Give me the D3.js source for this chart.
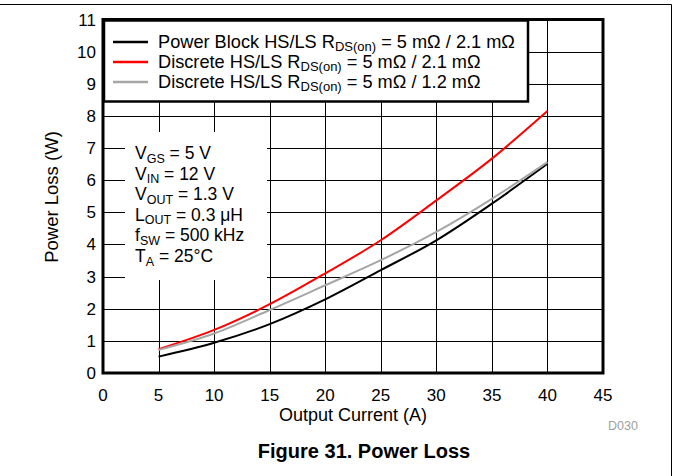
<!DOCTYPE html>
<html><head><meta charset="utf-8">
<script src="https://cdn.jsdelivr.net/npm/d3@7"></script>
<style>body{margin:0;background:#fff}svg{display:block;font-family:"Liberation Sans",Arial,sans-serif}</style>
</head><body><svg id="c" width="673" height="476"></svg>
<script>
const currents = [5, 10, 15, 20, 25, 30, 35, 40];
const powerBlock = [0.51, 0.94, 1.52, 2.29, 3.20, 4.13, 5.27, 6.51];
const discrete21 = [0.74, 1.34, 2.14, 3.10, 4.13, 5.37, 6.67, 8.15];
const discrete12 = [0.72, 1.23, 1.96, 2.73, 3.51, 4.39, 5.42, 6.56];
const xTicks = [0, 5, 10, 15, 20, 25, 30, 35, 40, 45];
const yTicks = [0, 1, 2, 3, 4, 5, 6, 7, 8, 9, 10, 11];
const seriesNames = [
  ["Power Block HS/LS R", "DS(on)", " = 5 m\u03A9 / 2.1 m\u03A9"],
  ["Discrete HS/LS R", "DS(on)", " = 5 m\u03A9 / 2.1 m\u03A9"],
  ["Discrete HS/LS R", "DS(on)", " = 5 m\u03A9 / 1.2 m\u03A9"]
];
const seriesColors = ["#000000", "#ff0000", "#a6a6a6"];
const conditions = [
  ["V", "GS", " = 5 V"], ["V", "IN", " = 12 V"], ["V", "OUT", " = 1.3 V"],
  ["L", "OUT", " = 0.3 \u03BCH"], ["f", "SW", " = 500 kHz"], ["T", "A", " = 25\u00B0C"]
];
const seriesValues = [powerBlock, discrete21, discrete12];

const svg = d3.select("#c");
const L = 103, R = 603, T = 19.5, B = 373;
const x = d3.scaleLinear().domain([0, 45]).range([L, R]);
const y = d3.scaleLinear().domain([0, 11]).range([B, T]);

// outer frame
svg.append("line").attr("x1", 0).attr("x2", 671.5).attr("y1", 4.5).attr("y2", 4.5).attr("stroke", "#000").attr("stroke-width", 1);
svg.append("line").attr("x1", 671.5).attr("x2", 671.5).attr("y1", 4.5).attr("y2", 476).attr("stroke", "#000").attr("stroke-width", 1);

// grid
const g = svg.append("g");
g.selectAll("line.v").data(xTicks.slice(1, -1)).join("line")
  .attr("x1", d => Math.round(x(d)) + 0.5).attr("x2", d => Math.round(x(d)) + 0.5)
  .attr("y1", T).attr("y2", B).attr("stroke", "#000").attr("stroke-width", 1);
g.selectAll("line.h").data(yTicks.slice(1, -1)).join("line")
  .attr("y1", d => Math.round(y(d)) + 0.5).attr("y2", d => Math.round(y(d)) + 0.5)
  .attr("x1", L).attr("x2", R).attr("stroke", "#000").attr("stroke-width", 1);

// axes tick labels
const fs = 17;
svg.append("g").selectAll("text").data(xTicks).join("text")
  .attr("x", d => x(d)).attr("y", 401).attr("text-anchor", "middle")
  .attr("font-size", fs).text(d => d);
svg.append("g").selectAll("text").data(yTicks).join("text")
  .attr("x", 96).attr("y", d => y(d) + 6).attr("text-anchor", "end")
  .attr("font-size", fs).text(d => d);

// curves
const line = d3.line().x((d, i) => x(currents[i])).y(d => y(d)).curve(d3.curveMonotoneX);
svg.append("g").selectAll("path").data(seriesValues).join("path")
  .attr("d", d => line(d)).attr("fill", "none")
  .attr("stroke", (d, i) => seriesColors[i]).attr("stroke-width", 2);

// annotation box
svg.append("rect").attr("x", 125).attr("y", 132).attr("width", 142).attr("height", 148).attr("fill", "#fff");
function subText(sel, parts, big, small) {
  sel.append("tspan").attr("font-size", big).text(parts[0]);
  sel.append("tspan").attr("font-size", small).attr("dy", 3.5).text(parts[1]);
  sel.append("tspan").attr("font-size", big).attr("dy", -3.5).text(parts[2]);
}
conditions.forEach((c, i) => {
  const t = svg.append("text").attr("x", 135).attr("y", 159 + i * 20.6);
  subText(t, c, 17.5, 12.5);
});

// legend
svg.append("rect").attr("x", 104).attr("y", 20.5).attr("width", 424).attr("height", 81)
  .attr("fill", "#fff").attr("stroke", "#000").attr("stroke-width", 2.5);
seriesNames.forEach((n, i) => {
  const cy = 42 + i * 20;
  svg.append("line").attr("x1", 113).attr("x2", 148).attr("y1", cy).attr("y2", cy)
    .attr("stroke", seriesColors[i]).attr("stroke-width", 2.5);
  const t = svg.append("text").attr("x", 158).attr("y", cy + 5.5);
  subText(t, n, 18.2, 13);
});

// plot frame
svg.append("rect").attr("x", L).attr("y", T).attr("width", R - L).attr("height", B - T)
  .attr("fill", "none").attr("stroke", "#000").attr("stroke-width", 3);

// titles
svg.append("text").attr("transform", "translate(58,197) rotate(-90)").attr("text-anchor", "middle")
  .attr("font-size", 18.5).text("Power Loss (W)");
svg.append("text").attr("x", 353).attr("y", 421).attr("text-anchor", "middle")
  .attr("font-size", 18).text("Output Current (A)");
svg.append("text").attr("x", 608).attr("y", 430).attr("font-size", 12.5).attr("fill", "#a0a0a0").text("D030");
svg.append("text").attr("x", 364).attr("y", 458).attr("text-anchor", "middle")
  .attr("font-size", 20).attr("font-weight", "bold").text("Figure 31. Power Loss");
</script></body></html>
